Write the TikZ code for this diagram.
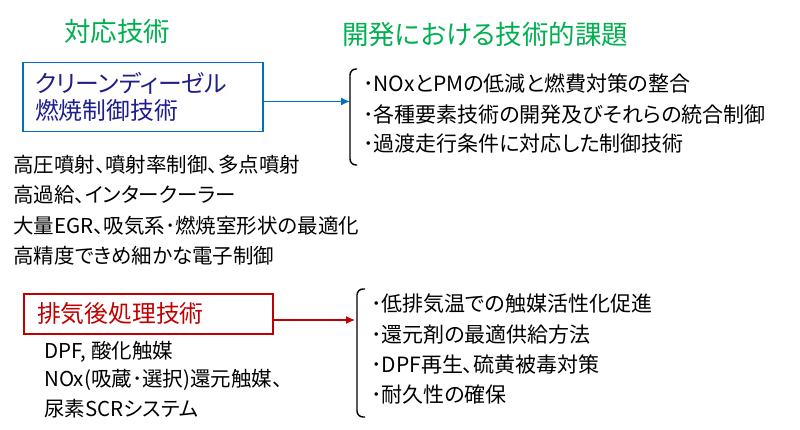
\documentclass[tikz,border=0pt]{standalone}
\usepackage{fontspec}
\setmainfont{Noto Sans CJK JP}[RawFeature={+palt}]
\usetikzlibrary{arrows.meta}
\definecolor{hdgreen}{RGB}{0,176,80}
\definecolor{boxblue}{RGB}{0,112,192}
\definecolor{navy}{RGB}{30,30,140}
\definecolor{darkred}{RGB}{192,0,0}
\tikzset{
  hdr/.style={anchor=west,inner sep=0pt,text=hdgreen,font=\fontsize{26.5}{28}\selectfont},
  item/.style={anchor=west,inner sep=0pt,font=\fontsize{21}{24}\selectfont},
  litem/.style={anchor=west,inner sep=0pt,font=\fontsize{20.5}{24}\selectfont},
  conn/.style={line width=1.4pt,-{Latex[length=9pt,width=8pt]}},
  brk/.style={line width=1.4pt,rounded corners=6pt},
}
\begin{document}
\begin{tikzpicture}[x=1pt,y=-1pt]
\useasboundingbox[fill=white] (0,0) rectangle (800,430);
% headers
\node[hdr] (h1) at (64,31) {対応技術};
\node[hdr] (h2) at (342,34) {開発における技術的課題};
% blue box
\node[draw=boxblue,line width=1.3pt,minimum width=240pt,minimum height=69pt,
      text width=216pt,inner xsep=12pt,align=left,text=navy,
      font=\fontsize{23.8}{27}\selectfont] (box1) at (143,96.7) {\raisebox{-2pt}{クリーンディーゼル}\\\raisebox{-2pt}{燃焼制御技術}};
\coordinate (a1) at (350,101.5);
\draw[conn,boxblue] (box1.east |- a1) -- (a1);
\draw[brk] (357,69) -- (350,69) -- (350,165) -- (357,165);
\node[item] (t1) at (363,84) {･NOxとPMの低減と燃費対策の整合};
\node[item] (t2) at (363,114) {･各種要素技術の開発及びそれらの統合制御};
\node[item] (t3) at (363,144) {･過渡走行条件に対応した制御技術};
% left list
\node[litem] (l1) at (13,165) {高圧噴射、噴射率制御、多点噴射};
\node[litem] (l2) at (13,195) {高過給、インタークーラー};
\node[litem] (l3) at (13,225.5) {大量EGR、吸気系･燃焼室形状の最適化};
\node[litem] (l4) at (13,256) {高精度できめ細かな電子制御};
% red box
\node[draw=darkred,line width=1.3pt,minimum width=249pt,minimum height=40pt,
      text width=223pt,inner xsep=13pt,align=left,text=darkred,
      font=\fontsize{23.8}{27}\selectfont] (box2) at (148.5,314) {\raisebox{-2pt}{排気後処理技術}};
\coordinate (a2) at (355,320);
\draw[conn,darkred] (box2.east |- a2) -- (a2);
\draw[brk] (365,289) -- (357,289) -- (357,417) -- (365,417);
\node[item] (r1) at (371,304) {･低排気温での触媒活性化促進};
\node[item] (r2) at (371,335) {･還元剤の最適供給方法};
\node[item] (r3) at (371,365) {･DPF再生、硫黄被毒対策};
\node[item] (r4) at (371,395) {･耐久性の確保};
% bottom left
\node[litem] (b1) at (44,352) {DPF, 酸化触媒};
\node[litem] (b2) at (44,380) {NOx(吸蔵･選択)還元触媒、};
\node[litem] (b3) at (44,409) {尿素SCRシステム};
\end{tikzpicture}
\end{document}
